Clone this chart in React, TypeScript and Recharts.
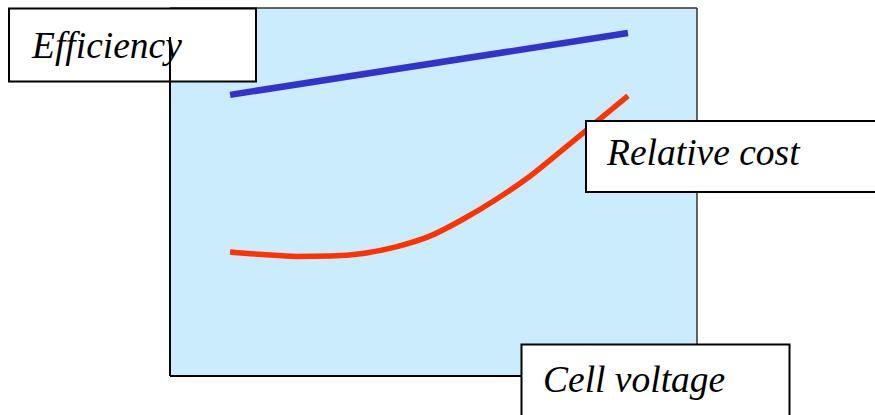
import React from "react";
import { ComposedChart, Line, XAxis, YAxis, CartesianGrid, ReferenceLine } from "recharts";

// Cell voltage (relative units, 0–100) and the two response curves
const efficiencyVoltage = [11.4, 86.9];
const efficiencyValues = [76.4, 93.2];

const costVoltage = [11.4, 17.6, 24.1, 30.4, 36.6, 42.9, 49.3, 55.6, 62.0, 68.3, 74.6, 80.8, 86.9];
const costValues = [33.7, 33.0, 32.5, 32.6, 33.3, 35.1, 38.0, 42.6, 48.1, 54.3, 61.6, 68.9, 76.1];

const labels = { efficiency: "Efficiency", cost: "Relative cost", voltage: "Cell voltage" };

const efficiencyData = efficiencyVoltage.map((x, i) => ({ x, y: efficiencyValues[i] }));
const costData = costVoltage.map((x, i) => ({ x, y: costValues[i] }));

const W = 875;
const H = 415;
const labelFont = "'Liberation Serif', 'DejaVu Serif', serif";

export default function App() {
  return (
    <div style={{ position: "absolute", left: 0, top: 0, width: W, height: H, background: "#fff" }}>
      <ComposedChart
        width={W}
        height={H}
        margin={{ top: 8, right: 178, bottom: 39, left: 170 }}
      >
        <CartesianGrid horizontal={false} vertical={false} fill="#cbecfd" fillOpacity={1} />
        <XAxis type="number" dataKey="x" domain={[0, 100]} hide />
        <YAxis type="number" domain={[0, 100]} hide />

        {/* frame: dark top/right edges, black left/bottom edges */}
        <ReferenceLine y={100} stroke="#333" strokeWidth={1.5} />
        <ReferenceLine x={100} stroke="#333" strokeWidth={1.5} />
        <ReferenceLine y={0} stroke="#000" strokeWidth={2} />
        <ReferenceLine x={0} stroke="#000" strokeWidth={2} />

        <Line
          data={efficiencyData}
          dataKey="y"
          type="linear"
          stroke="#3333cc"
          strokeWidth={6.5}
          dot={false}
          activeDot={false}
          isAnimationActive={false}
        />
        <Line
          data={costData}
          dataKey="y"
          type="monotone"
          stroke="#ff3300"
          strokeWidth={5.5}
          dot={false}
          activeDot={false}
          isAnimationActive={false}
        />
      </ComposedChart>

      <svg
        width={W}
        height={H}
        style={{ position: "absolute", left: 0, top: 0, pointerEvents: "none" }}
      >
        <g fontFamily={labelFont} fontStyle="italic" fontSize={37.5} fill="#000">
          <rect x={9} y={8.5} width={247} height={73} fill="#fff" stroke="#000" strokeWidth={2} />
          <text x={32} y={58}>{labels.efficiency}</text>
          <line x1={170} y1={37} x2={170} y2={82} stroke="#000" strokeWidth={2} />

          <rect x={586} y={121} width={300} height={71} fill="#fff" stroke="#000" strokeWidth={2} />
          <text x={607} y={165}>{labels.cost}</text>

          <rect x={521.5} y={344.5} width={268} height={80} fill="#fff" stroke="#000" strokeWidth={2} />
          <text x={543} y={392}>{labels.voltage}</text>
        </g>
      </svg>
    </div>
  );
}
